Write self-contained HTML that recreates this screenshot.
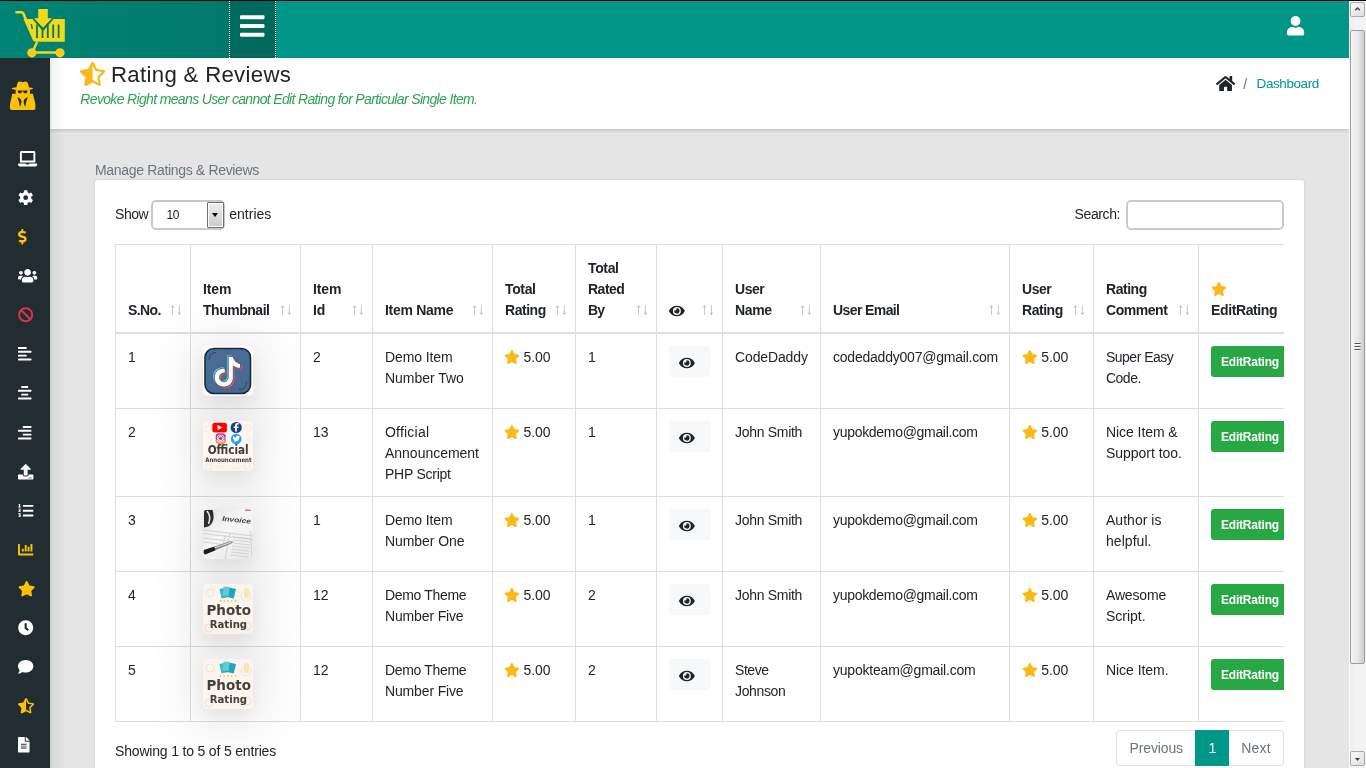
<!DOCTYPE html>
<html lang="en">
<head>
<meta charset="utf-8">
<title>Rating &amp; Reviews</title>
<style>
*{box-sizing:border-box;margin:0;padding:0}
html,body{width:1366px;height:768px;overflow:hidden;background:#e5e5e5;font-family:"Liberation Sans",sans-serif;font-size:14px;line-height:21px;color:#212529}
.abs{position:absolute}
#page{left:0;top:0;width:1366px;height:768px;overflow:hidden;will-change:transform}
.t{white-space:nowrap}
svg{display:block;overflow:visible}
#topline{left:0;top:0;width:1366px;height:1px;background:#000}
#hdr{left:0;top:1px;width:1349px;height:57px;background:#009688}
#logo{left:0;top:0;width:229px;height:57px;background:linear-gradient(to right,#008475,#00796b)}
#tog{left:229px;top:0;width:47px;height:57px;background:#00695c;border-left:1px dotted #fff;border-right:1px dotted #fff}
#side{left:0;top:58px;width:50px;height:710px;background:#222d32}
#ttl{left:50px;top:58px;width:1299px;height:71px;background:#fff;box-shadow:0 2px 3px rgba(0,0,0,.13)}
#sideshadow{left:50px;top:58px;width:16px;height:710px;background:linear-gradient(to right,rgba(0,0,20,.11),rgba(0,0,0,.045) 18%,rgba(0,0,0,.03) 50%,rgba(0,0,0,0))}
#card{left:95px;top:180px;width:1209px;height:600px;background:#fff;border-radius:3px;box-shadow:0 0 3px rgba(0,0,0,.12)}
#lensel{left:151.2px;top:200.2px;width:74.3px;height:29.6px;border:2px solid #c7c8cf;border-radius:5px;background:#fff}
#lenbtn{left:207.2px;top:202.1px;width:16.4px;height:25.5px;border:1px solid #6e6e6e;background:linear-gradient(#ededed,#cbcbcb);box-shadow:inset 0 0 0 1px #fff;border-radius:1px}
#lenbtn:after{content:"";position:absolute;left:3.4px;top:9.9px;border:3.8px solid transparent;border-top:4px solid #000;border-bottom:0}
#search{left:1126.3px;top:200.1px;width:157.7px;height:29.6px;border:2px solid #c9cad1;border-radius:5px;background:#fff}
#twrap{left:115px;top:244px;width:1169px;height:524px;overflow:hidden}
table{border-collapse:separate;border-spacing:0;table-layout:fixed;width:1190px;border-left:1px solid #dedede;border-top:1px solid #dedede}
th,td{border-right:1px solid #dedede;border-bottom:1px solid #dedede;padding:13px 12px 11px;text-align:left;vertical-align:top;white-space:nowrap;position:relative}
th{vertical-align:bottom;font-weight:700;height:89px;border-bottom:2px solid #dedede}
td{height:75px}
tr.r3 td{height:88px}
.sa{position:absolute;right:8px;bottom:16.5px}
.thumb{position:absolute;left:12px;top:12px;width:50px;height:50px;border-radius:5px;overflow:hidden;box-shadow:0 7px 16px 0 rgba(0,0,0,.06),0 5px 50px 16px rgba(0,0,0,.074)}
.thumb svg{border-radius:5px;overflow:hidden}
.eyebtn{position:absolute;left:12px;top:12px;width:41px;height:31px;background:#f7f8f9;border-radius:3px}
.edit{position:absolute;left:12px;top:12px;width:79px;height:31px;background:#28a745;border-radius:3px;color:#fff;font-weight:700;font-size:12px}
#pag{left:1116px;top:730px;width:168px;height:36px;border:1px solid #dee2e6;border-radius:4px;background:#fff}
#pagact{left:1195px;top:730px;width:34px;height:36px;background:#009688}
#sb{left:1349px;top:1px;width:17px;height:767px;background:linear-gradient(to right,#fafafa 1px,#eeeeee 1px,#f3f3f3 40%,#f3f3f3)}
.sbbtn{left:1px;width:15px;height:15px;border:1px solid #ababab;border-radius:2px;background:linear-gradient(135deg,#fafafa,#dedede)}
#sbthumb{left:1px;top:29px;width:15px;height:634px;border:1px solid #9c9c9c;border-radius:2px;background:linear-gradient(to right,#f5f5f5,#e8e8e8 50%,#cfcfcf)}
</style>
</head>
<body>
<div id="page" class="abs">
<header class="abs" id="hdr"><div class="abs" id="logo"></div><svg class="abs" style="left:0;top:0" width="120" height="57" viewBox="0 1 120 57"><path d="M16.5 12.3 H21 Q23 12.3 23.8 14.5 L26.5 21" fill="none" stroke="#f2d91a" stroke-width="2.6" stroke-linecap="round" stroke-linejoin="round"/><path d="M23.5 19 H64.8 V41.8 H35.5 Q33.5 41.8 32.8 40 Z" fill="#f2d91a"/><path d="M30.6 24 L32 24 L33 29 L31.6 29 Z" fill="#007a6c"/><rect x="36.1" y="24.5" width="1.8" height="13.5" fill="#007a6c"/><rect x="41.6" y="24.5" width="1.8" height="13.5" fill="#007a6c"/><rect x="46.9" y="24.5" width="1.8" height="13.5" fill="#007a6c"/><rect x="52.300000000000004" y="24.5" width="1.8" height="13.5" fill="#007a6c"/><rect x="57.7" y="24.5" width="1.8" height="13.5" fill="#007a6c"/><path d="M33.5 18.5 L43 29.5 L52.5 18.5" fill="none" stroke="#007a6c" stroke-width="2.2"/><path d="M38.2 9 H47.8 V18.3 H52 L43 27.5 L34 18.3 H38.2 Z" fill="#f2d91a"/><path d="M37.2 42 L32 52.5 H60" fill="none" stroke="#f2d91a" stroke-width="2.4" stroke-linejoin="round"/><circle cx="31.8" cy="52.8" r="4.6" fill="#fccb1c"/><circle cx="60" cy="52.8" r="4.6" fill="#fccb1c"/></svg><div class="abs" id="tog"></div><svg class="abs" style="left:240px;top:10.8px;" width="24.50" height="28" viewBox="0 0 448 512"><path fill="#fff" d="M16 132h416c8.837 0 16-7.163 16-16V76c0-8.837-7.163-16-16-16H16C7.163 60 0 67.163 0 76v40c0 8.837 7.163 16 16 16zm0 160h416c8.837 0 16-7.163 16-16v-40c0-8.837-7.163-16-16-16H16c-8.837 0-16 7.163-16 16v40c0 8.837 7.163 16 16 16zm0 160h416c8.837 0 16-7.163 16-16v-40c0-8.837-7.163-16-16-16H16c-8.837 0-16 7.163-16 16v40c0 8.837 7.163 16 16 16z"/></svg><svg class="abs" style="left:1287.4px;top:14.7px;" width="17.15" height="19.6" viewBox="0 0 448 512"><path fill="#fff" d="M224 256c70.7 0 128-57.3 128-128S294.700 0 224 0 96 57.3 96 128s57.300 128 128 128zm89.600 32h-16.700c-22.200 10.200-46.900 16-72.900 16s-50.600-5.800-72.900-16h-16.700C60.200 288 0 348.200 0 422.400V464c0 26.500 21.500 48 48 48h352c26.500 0 48-21.500 48-48v-41.600c0-74.200-60.200-134.400-134.400-134.400z"/></svg></header>
<div class="abs" id="topline"></div>
<nav class="abs" id="side"><svg class="abs" style="left:9.8px;top:23px" width="25.38" height="29" viewBox="0 0 448 512"><path fill="#ffc107" d="M108 132 L130 44 C138 12 168 0 194 14 C212 24 236 24 254 14 C280 0 310 12 318 44 L340 132z"/><ellipse cx="218" cy="134" rx="192" ry="27" fill="#ffc107"/><path fill="#ffc107" d="M100 150 H352 V236 H100z"/><path fill="#222d32" d="M136 168 H214 C214 202 198 222 175 222 C152 222 136 202 136 168z M232 168 H310 C310 202 294 222 271 222 C248 222 232 202 232 168z M206 170 h34 v12 h-34z"/><path fill="#ffc107" d="M40 226 H404 L430 330 C444 370 448 410 448 440 L448 480 C448 498 436 510 418 510 L30 510 C12 510 0 498 0 480 L0 440 C0 410 4 370 18 330z"/><path fill="#222d32" d="M128 286 C170 296 198 320 202 354 C206 394 194 426 172 456 C172 400 150 340 128 286z"/><path fill="#222d32" d="M316 286 C274 296 246 320 242 354 C238 394 250 426 272 456 C272 400 294 340 316 286z"/></svg><svg class="abs" style="left:17.7px;top:92.8px;" width="19.25" height="15.4" viewBox="0 0 640 512"><path fill="#fff" d="M624 416H381.540c-.74 19.810-14.710 32-32.740 32H288c-18.690 0-33.020-17.470-32.770-32H16c-8.800 0-16 7.200-16 16v16c0 35.200 28.800 64 64 64h512c35.200 0 64-28.800 64-64v-16c0-8.800-7.200-16-16-16zM576 48c0-26.400-21.600-48-48-48H112C85.600 0 64 21.600 64 48v336h512V48zm-64 272H128V64h384v256z"/></svg><svg class="abs" style="left:17.7px;top:131.5px;" width="15.40" height="15.4" viewBox="0 0 512 512"><path fill="#fff" fill-rule="evenodd" d="M198.5 10.7 L313.5 10.7 L316.0 77.8 L380.3 115.0 L439.7 83.5 L497.2 183.2 L440.3 218.8 L440.3 293.2 L497.2 328.8 L439.7 428.5 L380.3 397.0 L316.0 434.2 L313.5 501.3 L198.5 501.3 L196.0 434.2 L131.7 397.0 L72.3 428.5 L14.8 328.8 L71.7 293.2 L71.7 218.8 L14.8 183.2 L72.3 83.5 L131.7 115.0 L196.0 77.8zM176 256a80 80 0 1 0 160 0a80 80 0 1 0 -160 0z"/></svg><svg class="abs" style="left:18px;top:171.0px;" width="8.66" height="15.4" viewBox="0 0 288 512"><path fill="#ffc107" d="M209.2 233.4l-108-31.6C88.7 198.2 80 186.5 80 173.5c0-16.3 13.2-29.5 29.5-29.5h66.3c12.2 0 24.200 3.700 34.200 10.500 6.100 4.100 14.300 3.100 19.500-2l34.800-34c7.100-6.900 6.100-18.400-1.800-24.500C238 74.800 207.400 64.100 176 64V16c0-8.800-7.200-16-16-16h-32c-8.800 0-16 7.200-16 16v48h-2.500C45.800 64-5.400 118.700.5 183.600c4.200 46.100 39.400 83.600 83.800 96.600l102.500 30c12.500 3.700 21.200 15.300 21.200 28.300 0 16.300-13.200 29.500-29.500 29.500h-66.300C100 368 88 364.300 78 357.500c-6.100-4.100-14.300-3.100-19.500 2l-34.800 34c-7.100 6.900-6.100 18.400 1.800 24.500 24.500 19.200 55.100 29.900 86.500 30v48c0 8.800 7.200 16 16 16h32c8.800 0 16-7.200 16-16v-48.200c46.600-.9 90.300-28.600 105.700-72.700 21.500-61.600-14.600-124.800-72.500-141.700z"/></svg><svg class="abs" style="left:17.7px;top:210.1px;" width="19.25" height="15.4" viewBox="0 0 640 512"><path fill="#fff" d="M96 224c35.300 0 64-28.700 64-64s-28.700-64-64-64-64 28.700-64 64 28.700 64 64 64zm448 0c35.300 0 64-28.700 64-64s-28.700-64-64-64-64 28.700-64 64 28.700 64 64 64zm32 32h-64c-17.600 0-33.500 7.100-45.100 18.600 40.300 22.100 68.900 62 75.100 109.400h66c17.700 0 32-14.300 32-32v-32c0-35.300-28.700-64-64-64zm-256 0c61.900 0 112-50.100 112-112S381.900 32 320 32 208 82.100 208 144s50.100 112 112 112zm76.800 32h-8.300c-20.800 10-43.900 16-68.500 16s-47.600-6-68.500-16h-8.300C179.600 288 128 339.600 128 403.200V432c0 26.500 21.500 48 48 48h288c26.500 0 48-21.500 48-48v-28.800c0-63.600-51.600-115.200-115.200-115.200zm-223.700-13.400C161.500 263.100 145.600 256 128 256H64c-35.300 0-64 28.700-64 64v32c0 17.700 14.300 32 32 32h65.900c6.300-47.400 34.900-87.300 75.200-109.400z"/></svg><svg class="abs" style="left:17.7px;top:249.2px;" width="15.40" height="15.4" viewBox="0 0 512 512"><path fill="#dc3545" d="M256 8C119.034 8 8 119.033 8 256s111.034 248 248 248 248-111.034 248-248S392.967 8 256 8zm130.108 117.892c65.448 65.448 70 165.481 20.677 235.637L150.470 105.216c70.204-49.356 170.226-44.735 235.638 20.676zM125.892 386.108c-65.448-65.448-70-165.481-20.677-235.637L361.530 406.784c-70.203 49.356-170.226 44.736-235.638-20.676z"/></svg><svg class="abs" style="left:17.7px;top:288.3px;" width="13.47" height="15.4" viewBox="0 0 448 512"><path fill="#fff" d="M13 32h262a13 13 0 0 1 13 13v38a13 13 0 0 1 -13 13h-262a13 13 0 0 1 -13 -13v-38a13 13 0 0 1 13 -13zM13 288h262a13 13 0 0 1 13 13v38a13 13 0 0 1 -13 13h-262a13 13 0 0 1 -13 -13v-38a13 13 0 0 1 13 -13zM16 160h416a16 16 0 0 1 16 16v32a16 16 0 0 1 -16 16h-416a16 16 0 0 1 -16 -16v-32a16 16 0 0 1 16 -16zM16 416h416a16 16 0 0 1 16 16v32a16 16 0 0 1 -16 16h-416a16 16 0 0 1 -16 -16v-32a16 16 0 0 1 16 -16z"/></svg><svg class="abs" style="left:17.7px;top:327.4px;" width="13.47" height="15.4" viewBox="0 0 448 512"><path fill="#fff" d="M121 32h206a13 13 0 0 1 13 13v38a13 13 0 0 1 -13 13h-206a13 13 0 0 1 -13 -13v-38a13 13 0 0 1 13 -13zM121 288h206a13 13 0 0 1 13 13v38a13 13 0 0 1 -13 13h-206a13 13 0 0 1 -13 -13v-38a13 13 0 0 1 13 -13zM16 160h416a16 16 0 0 1 16 16v32a16 16 0 0 1 -16 16h-416a16 16 0 0 1 -16 -16v-32a16 16 0 0 1 16 -16zM16 416h416a16 16 0 0 1 16 16v32a16 16 0 0 1 -16 16h-416a16 16 0 0 1 -16 -16v-32a16 16 0 0 1 16 -16z"/></svg><svg class="abs" style="left:17.7px;top:366.5px;" width="13.47" height="15.4" viewBox="0 0 448 512"><path fill="#fff" d="M173 32h262a13 13 0 0 1 13 13v38a13 13 0 0 1 -13 13h-262a13 13 0 0 1 -13 -13v-38a13 13 0 0 1 13 -13zM173 288h262a13 13 0 0 1 13 13v38a13 13 0 0 1 -13 13h-262a13 13 0 0 1 -13 -13v-38a13 13 0 0 1 13 -13zM16 160h416a16 16 0 0 1 16 16v32a16 16 0 0 1 -16 16h-416a16 16 0 0 1 -16 -16v-32a16 16 0 0 1 16 -16zM16 416h416a16 16 0 0 1 16 16v32a16 16 0 0 1 -16 16h-416a16 16 0 0 1 -16 -16v-32a16 16 0 0 1 16 -16z"/></svg><svg class="abs" style="left:17.7px;top:405.6px;" width="15.40" height="15.4" viewBox="0 0 512 512"><path fill="#fff" d="M296 384h-80c-13.300 0-24-10.700-24-24V192h-87.700c-17.800 0-26.700-21.500-14.100-34.100L242.300 5.700c7.500-7.500 19.800-7.500 27.300 0l152.200 152.200c12.600 12.600 3.700 34.100-14.100 34.100H320v168c0 13.300-10.700 24-24 24zm216-8v112c0 13.300-10.700 24-24 24H24c-13.300 0-24-10.700-24-24V376c0-13.300 10.700-24 24-24h136v8c0 30.900 25.100 56 56 56h80c30.900 0 56-25.100 56-56v-8h136c13.300 0 24 10.700 24 24zm-124 88c0-11-9-20-20-20s-20 9-20 20 9 20 20 20 20-9 20-20zm64 0c0-11-9-20-20-20s-20 9-20 20 9 20 20 20 20-9 20-20z"/></svg><svg class="abs" style="left:17.7px;top:444.7px;" width="15.40" height="15.4" viewBox="0 0 512 512"><path fill="#fff" d="M176 64h320a16 16 0 0 1 16 16v32a16 16 0 0 1 -16 16h-320a16 16 0 0 1 -16 -16v-32a16 16 0 0 1 16 -16zM176 224h320a16 16 0 0 1 16 16v32a16 16 0 0 1 -16 16h-320a16 16 0 0 1 -16 -16v-32a16 16 0 0 1 16 -16zM176 384h320a16 16 0 0 1 16 16v32a16 16 0 0 1 -16 16h-320a16 16 0 0 1 -16 -16v-32a16 16 0 0 1 16 -16zM24 36h46v84h20v32h-80v-32h22v-52h-12zM10 212q0 -28 40 -28q42 0 42 32q0 18 -30 40h30v32h-82v-26q46 -32 46 -44q0 -6 -8 -6q-8 0 -8 8zM10 344h80v26l-20 22q24 8 24 32q0 40 -44 40q-34 0 -42 -28l28 -10q4 10 14 10q10 0 10 -10q0 -10 -14 -10h-10v-24l16 -18h-42z"/></svg><svg class="abs" style="left:17.7px;top:483.8px;" width="15.40" height="15.4" viewBox="0 0 512 512"><path fill="#ffc107" d="M332.800 320h38.400c6.400 0 12.800-6.400 12.800-12.800V172.800c0-6.400-6.400-12.800-12.800-12.800h-38.400c-6.400 0-12.800 6.400-12.800 12.800v134.400c0 6.400 6.400 12.800 12.800 12.800zm96 0h38.400c6.400 0 12.800-6.400 12.800-12.800V76.800c0-6.400-6.400-12.800-12.800-12.800h-38.400c-6.400 0-12.800 6.400-12.800 12.800v230.400c0 6.400 6.400 12.800 12.800 12.800zm-288 0h38.400c6.400 0 12.800-6.400 12.800-12.800v-70.400c0-6.400-6.400-12.800-12.800-12.800h-38.400c-6.400 0-12.800 6.400-12.800 12.800v70.400c0 6.400 6.400 12.800 12.800 12.800zm96 0h38.400c6.400 0 12.800-6.400 12.800-12.800V108.800c0-6.400-6.400-12.800-12.800-12.800h-38.400c-6.400 0-12.800 6.400-12.800 12.800v198.400c0 6.400 6.400 12.800 12.800 12.800zM496 384H64V80c0-8.840-7.160-16-16-16H16C7.160 64 0 71.160 0 80v336c0 17.670 14.330 32 32 32h464c8.840 0 16-7.160 16-16v-32c0-8.840-7.160-16-16-16z"/></svg><svg class="abs" style="left:17.7px;top:522.9px;" width="17.32" height="15.4" viewBox="0 0 576 512"><path fill="#ffc107" d="M259.3 17.800L194 150.200 47.900 171.500c-26.200 3.800-36.700 36.100-17.700 54.600l105.700 103-25 145.500c-4.500 26.300 23.200 46 46.400 33.700L288 439.600l130.700 68.700c23.200 12.200 50.900-7.400 46.400-33.700l-25-145.500 105.700-103c19-18.500 8.500-50.800-17.700-54.600L382 150.200 316.700 17.800c-11.700-23.600-45.600-23.900-57.400 0z"/></svg><svg class="abs" style="left:17.7px;top:562.0px;" width="15.40" height="15.4" viewBox="0 0 512 512"><path fill="#fff" d="M256 8C119 8 8 119 8 256s111 248 248 248 248-111 248-248S393 8 256 8zm57.100 350.100L224.900 294c-3.100-2.300-4.900-5.900-4.900-9.700V116c0-6.600 5.400-12 12-12h48c6.600 0 12 5.400 12 12v137.700l63.500 46.200c5.400 3.900 6.500 11.400 2.600 16.800l-28.200 38.800c-3.900 5.300-11.400 6.500-16.800 2.600z"/></svg><svg class="abs" style="left:17.7px;top:601.1px;" width="15.40" height="15.4" viewBox="0 0 512 512"><path fill="#fff" d="M256 32C114.600 32 0 125.100 0 240c0 49.600 21.400 95 57 130.700C44.500 421.100 2.700 466 2.200 466.500c-2.200 2.300-2.800 5.700-1.500 8.700S4.800 480 8 480c66.300 0 116-31.800 140.600-51.400 32.700 12.300 69 19.400 107.400 19.400 141.400 0 256-93.100 256-208S397.400 32 256 32z"/></svg><svg class="abs" style="left:17.7px;top:640.2px;" width="16.12" height="15.4" viewBox="0 0 536 512"><path fill="#ffc107" d="M508.550 171.510L362.180 150.200 296.770 17.810C290.890 5.980 279.420 0 267.950 0c-11.400 0-22.790 5.900-28.690 17.810l-65.430 132.380-146.380 21.290c-26.250 3.800-36.770 36.090-17.740 54.590l105.890 103-25.060 145.480C86.980 495.330 103.570 512 122.150 512c4.930 0 10-1.170 14.870-3.750l130.950-68.680 130.940 68.700c4.860 2.550 9.920 3.710 14.830 3.710 18.600 0 35.220-16.610 31.660-37.400l-25.030-145.490 105.910-102.980c19.040-18.500 8.520-50.800-17.730-54.600zm-121.740 123.200l-18.120 17.620 4.280 24.880 19.520 113.450-102.130-53.590-22.380-11.740.03-317.190 51.030 103.290 11.180 22.630 25.010 3.640 114.230 16.630-82.650 80.380z"/></svg><svg class="abs" style="left:17.7px;top:679.3px;" width="11.55" height="15.4" viewBox="0 0 384 512"><path fill="#fff" d="M224 136V0H24C10.700 0 0 10.700 0 24v464c0 13.300 10.700 24 24 24h336c13.300 0 24-10.700 24-24V160H248c-13.200 0-24-10.800-24-24zm64 236c0 6.600-5.400 12-12 12H108c-6.600 0-12-5.400-12-12v-8c0-6.600 5.400-12 12-12h168c6.600 0 12 5.400 12 12v8zm0-64c0 6.600-5.400 12-12 12H108c-6.600 0-12-5.400-12-12v-8c0-6.600 5.400-12 12-12h168c6.600 0 12 5.400 12 12v8zm0-72v8c0 6.600-5.400 12-12 12H108c-6.600 0-12-5.400-12-12v-8c0-6.600 5.400-12 12-12h168c6.600 0 12 5.400 12 12zm96-114.100v6.100H256V0h6.100c6.400 0 12.500 2.500 17 7l97.900 98c4.500 4.500 7 10.600 7 16.900z"/></svg></nav>
<section class="abs" id="ttl"></section>
<div class="abs" id="sideshadow"></div>
<svg class="abs" style="left:80px;top:62px;" width="25.12" height="24" viewBox="0 0 536 512"><path fill="#fbb917" d="M508.550 171.510L362.180 150.200 296.770 17.810C290.890 5.980 279.420 0 267.950 0c-11.400 0-22.790 5.900-28.690 17.810l-65.430 132.380-146.380 21.290c-26.250 3.800-36.770 36.090-17.740 54.590l105.890 103-25.060 145.480C86.980 495.330 103.570 512 122.150 512c4.930 0 10-1.170 14.870-3.750l130.950-68.680 130.940 68.700c4.860 2.550 9.920 3.710 14.830 3.710 18.600 0 35.220-16.610 31.660-37.400l-25.030-145.490 105.910-102.980c19.040-18.500 8.520-50.800-17.730-54.600zm-121.740 123.200l-18.120 17.620 4.280 24.880 19.520 113.450-102.130-53.590-22.380-11.740.03-317.190 51.030 103.290 11.180 22.630 25.010 3.640 114.230 16.630-82.650 80.380z"/></svg><h1 style="font-weight:400;font-size:inherit"><span class="abs t" style="left:111px;top:63.81px;font-size:22.2px;line-height:1;letter-spacing:0.318px;">Rating &amp; Reviews</span></h1><span class="abs t" style="left:80.3px;top:91.85px;font-size:14px;line-height:1;font-style:italic;letter-spacing:-0.654px;color:#2fa24f;">Revoke Right means User cannot Edit Rating for Particular Single Item.</span><svg class="abs" style="left:1216px;top:75px;" width="19.12" height="17" viewBox="0 0 576 512"><path fill="#212529" d="M280.370 148.260L96 300.110V464a16 16 0 0 0 16 16l112.060-.29a16 16 0 0 0 15.920-16V368a16 16 0 0 1 16-16h64a16 16 0 0 1 16 16v95.640a16 16 0 0 0 16 16.050L464 480a16 16 0 0 0 16-16V300L295.670 148.260a12.190 12.190 0 0 0-15.300 0zM571.600 251.470L488 182.560V44.050a12 12 0 0 0-12-12h-56a12 12 0 0 0-12 12v72.610L318.470 43a48 48 0 0 0-61 0L4.340 251.470a12 12 0 0 0-1.600 16.900l25.500 31A12 12 0 0 0 45.150 301l235.220-193.740a12.190 12.190 0 0 1 15.300 0L530.900 301a12 12 0 0 0 16.900-1.600l25.500-31a12 12 0 0 0-1.700-16.930z"/></svg><span class="abs t" style="left:1243.3px;top:76.75px;font-size:14px;line-height:1;color:#6c757d;">/</span><span class="abs t" style="left:1256.6px;top:77.17px;font-size:13.5px;line-height:1;letter-spacing:-0.427px;color:#009688;">Dashboard</span>
<span class="abs t" style="left:95px;top:162.95px;font-size:14px;line-height:1;letter-spacing:-0.332px;color:#6c757d;">Manage Ratings &amp; Reviews</span><div class="abs" id="card"></div>
<span class="abs t" style="left:115px;top:206.85px;font-size:14px;line-height:1;letter-spacing:-0.455px;">Show</span><div class="abs" id="lensel"></div><div class="abs" id="lenbtn"></div><span class="abs t" style="left:166.5px;top:208.84px;font-size:12px;line-height:1;letter-spacing:-0.424px;">10</span><span class="abs t" style="left:229.3px;top:206.85px;font-size:14px;line-height:1;letter-spacing:-0.003px;">entries</span><span class="abs t" style="left:1074.6px;top:206.85px;font-size:14px;line-height:1;letter-spacing:-0.407px;">Search:</span><div class="abs" id="search"></div>
<div class="abs" id="twrap"><table><colgroup><col style="width:75px"><col style="width:110px"><col style="width:72px"><col style="width:120px"><col style="width:83px"><col style="width:81px"><col style="width:66px"><col style="width:98px"><col style="width:189px"><col style="width:84px"><col style="width:105px"><col style="width:107px"></colgroup>
<thead><tr><th><span style="letter-spacing:-0.596px">S.No.</span><svg class="sa" width="12" height="10.2" viewBox="0 0 12 10.2"><path d="M2.5 10V.8M.9 2.600L2.500.800L4.100 2.600M9.400.200V9.400M7.800 7.600L9.400 9.400L11 7.600" stroke="#212529" stroke-opacity=".26" fill="none" stroke-width="1"/></svg></th><th><span style="letter-spacing:-0.097px">Item</span><br><span style="letter-spacing:-0.475px">Thumbnail</span><svg class="sa" width="12" height="10.2" viewBox="0 0 12 10.2"><path d="M2.5 10V.8M.9 2.600L2.500.800L4.100 2.600M9.400.200V9.400M7.800 7.600L9.400 9.400L11 7.600" stroke="#212529" stroke-opacity=".26" fill="none" stroke-width="1"/></svg></th><th><span style="letter-spacing:-0.097px">Item</span><br><span style="letter-spacing:-0.221px">Id</span><svg class="sa" width="12" height="10.2" viewBox="0 0 12 10.2"><path d="M2.5 10V.8M.9 2.600L2.500.800L4.100 2.600M9.400.200V9.400M7.800 7.600L9.400 9.400L11 7.600" stroke="#212529" stroke-opacity=".26" fill="none" stroke-width="1"/></svg></th><th><span style="letter-spacing:-0.279px">Item Name</span><svg class="sa" width="12" height="10.2" viewBox="0 0 12 10.2"><path d="M2.5 10V.8M.9 2.600L2.500.800L4.100 2.600M9.400.200V9.400M7.800 7.600L9.400 9.400L11 7.600" stroke="#212529" stroke-opacity=".26" fill="none" stroke-width="1"/></svg></th><th><span style="letter-spacing:-0.36px">Total</span><br><span style="letter-spacing:-0.459px">Rating</span><svg class="sa" width="12" height="10.2" viewBox="0 0 12 10.2"><path d="M2.5 10V.8M.9 2.600L2.500.800L4.100 2.600M9.400.200V9.400M7.800 7.600L9.400 9.400L11 7.600" stroke="#212529" stroke-opacity=".26" fill="none" stroke-width="1"/></svg></th><th><span style="letter-spacing:-0.36px">Total</span><br><span style="letter-spacing:-0.499px">Rated</span><br><span style="letter-spacing:-0.848px">By</span><svg class="sa" width="12" height="10.2" viewBox="0 0 12 10.2"><path d="M2.5 10V.8M.9 2.600L2.500.800L4.100 2.600M9.400.200V9.400M7.800 7.600L9.400 9.400L11 7.600" stroke="#212529" stroke-opacity=".26" fill="none" stroke-width="1"/></svg></th><th><svg style="position:absolute;left:11.5px;bottom:14.5px" width="15.75" height="14" viewBox="0 0 576 512"><path fill="#212529" d="M572.520 241.400C518.290 135.590 410.930 64 288 64S57.680 135.640 3.480 241.410a32.350 32.350 0 0 0 0 29.190C57.710 376.410 165.070 448 288 448s230.320-71.640 284.520-177.410a32.350 32.350 0 0 0 0-29.190zM288 400a144 144 0 1 1 144-144 143.930 143.930 0 0 1-144 144zm0-240a95.310 95.310 0 0 0-25.310 3.790 47.850 47.850 0 0 1-66.900 66.900A95.780 95.780 0 1 0 288 160z"/></svg>&nbsp;<svg class="sa" width="12" height="10.2" viewBox="0 0 12 10.2"><path d="M2.5 10V.8M.9 2.600L2.500.800L4.100 2.600M9.400.200V9.400M7.800 7.600L9.400 9.400L11 7.600" stroke="#212529" stroke-opacity=".26" fill="none" stroke-width="1"/></svg></th><th><span style="letter-spacing:-0.483px">User</span><br><span style="letter-spacing:-0.333px">Name</span><svg class="sa" width="12" height="10.2" viewBox="0 0 12 10.2"><path d="M2.5 10V.8M.9 2.600L2.500.800L4.100 2.600M9.400.200V9.400M7.800 7.600L9.400 9.400L11 7.600" stroke="#212529" stroke-opacity=".26" fill="none" stroke-width="1"/></svg></th><th><span style="letter-spacing:-0.597px">User Email</span><svg class="sa" width="12" height="10.2" viewBox="0 0 12 10.2"><path d="M2.5 10V.8M.9 2.600L2.500.800L4.100 2.600M9.400.200V9.400M7.800 7.600L9.400 9.400L11 7.600" stroke="#212529" stroke-opacity=".26" fill="none" stroke-width="1"/></svg></th><th><span style="letter-spacing:-0.483px">User</span><br><span style="letter-spacing:-0.459px">Rating</span><svg class="sa" width="12" height="10.2" viewBox="0 0 12 10.2"><path d="M2.5 10V.8M.9 2.600L2.500.800L4.100 2.600M9.400.200V9.400M7.800 7.600L9.400 9.400L11 7.600" stroke="#212529" stroke-opacity=".26" fill="none" stroke-width="1"/></svg></th><th><span style="letter-spacing:-0.459px">Rating</span><br><span style="letter-spacing:-0.451px">Comment</span><svg class="sa" width="12" height="10.2" viewBox="0 0 12 10.2"><path d="M2.5 10V.8M.9 2.600L2.500.800L4.100 2.600M9.400.200V9.400M7.800 7.600L9.400 9.400L11 7.600" stroke="#212529" stroke-opacity=".26" fill="none" stroke-width="1"/></svg></th><th><svg style="position:absolute;left:11.500px;bottom:36.500px" width="15.75" height="14" viewBox="0 0 576 512"><path fill="#fbb917" d="M259.3 17.800L194 150.200 47.900 171.500c-26.200 3.800-36.700 36.100-17.700 54.600l105.700 103-25 145.500c-4.500 26.300 23.200 46 46.400 33.700L288 439.600l130.700 68.700c23.200 12.200 50.900-7.400 46.400-33.700l-25-145.500 105.700-103c19-18.500 8.500-50.800-17.700-54.600L382 150.200 316.700 17.800c-11.700-23.600-45.600-23.900-57.400 0z"/></svg><br><span style="letter-spacing:-0.379px">EditRating</span></th></tr></thead>
<tbody>
<tr><td>1</td><td><div class="thumb"><svg width="50" height="50" viewBox="0 0 50 50"><rect width="50" height="50" fill="#fff"/><rect x="2" y="2.5" width="45.5" height="45" rx="9" fill="#4a6b94" stroke="#1c2840" stroke-width="1.6"/><path d="M6 14 Q6 6.500 13 6.500" fill="none" stroke="#2c4063" stroke-width="1"/><path d="M43.500 36 Q43.500 43.500 36 43.500" fill="none" stroke="#2c4063" stroke-width="1"/><path d="M25.300 10.500 h5 c.5 4 3.200 6.700 7.200 7.200 v4.600 c-2.700 0-5.200-.8-7.200-2.300 v11.500 c0 5.500-4.400 9.500-9.500 9.500 s-9.500-4-9.500-9.500 c0-5.600 4.900-10 10.800-9.200 v5 c-2.800-.8-5.600 1.200-5.600 4.200 c0 2.500 2 4.300 4.300 4.300 s4.500-1.800 4.500-4.600z" fill="#e8596b" transform="translate(1.200,1.200)"/><path d="M25.300 10.500 h5 c.5 4 3.200 6.700 7.200 7.200 v4.600 c-2.700 0-5.200-.8-7.200-2.300 v11.500 c0 5.500-4.400 9.500-9.500 9.500 s-9.500-4-9.500-9.500 c0-5.600 4.900-10 10.800-9.200 v5 c-2.800-.8-5.600 1.200-5.600 4.200 c0 2.500 2 4.300 4.300 4.300 s4.500-1.800 4.500-4.600z" fill="#5fd6d6" transform="translate(-1.200,-1)"/><path d="M25.300 10.500 h5 c.5 4 3.200 6.700 7.200 7.200 v4.600 c-2.700 0-5.200-.8-7.200-2.300 v11.500 c0 5.500-4.400 9.500-9.500 9.500 s-9.500-4-9.500-9.500 c0-5.600 4.900-10 10.800-9.200 v5 c-2.800-.8-5.600 1.200-5.600 4.200 c0 2.500 2 4.300 4.300 4.300 s4.500-1.800 4.500-4.600z" fill="#fff" stroke="#1c2840" stroke-width=".6"/></svg></div></td><td>2</td><td><span style="letter-spacing:-0.096px">Demo Item</span><br><span style="letter-spacing:-0.036px">Number Two</span></td><td><svg style="position:absolute;left:10.800px;top:16px" width="15.75" height="14" viewBox="0 0 576 512"><path fill="#fbb917" d="M259.3 17.800L194 150.200 47.900 171.500c-26.200 3.800-36.700 36.100-17.700 54.600l105.700 103-25 145.500c-4.500 26.300 23.200 46 46.400 33.700L288 439.600l130.700 68.700c23.200 12.200 50.900-7.400 46.400-33.700l-25-145.500 105.700-103c19-18.500 8.500-50.800-17.700-54.600L382 150.200 316.700 17.800c-11.700-23.600-45.600-23.900-57.400 0z"/></svg><span style="padding-left:18.500px"><span style="letter-spacing:-0.062px">5.00</span></span></td><td>1</td><td><div class="eyebtn"><svg style="position:absolute;left:9.800px;top:9.800px" width="15.75" height="14" viewBox="0 0 576 512"><path fill="#212529" d="M572.520 241.400C518.290 135.590 410.930 64 288 64S57.680 135.640 3.480 241.410a32.350 32.350 0 0 0 0 29.190C57.710 376.410 165.070 448 288 448s230.320-71.640 284.520-177.410a32.350 32.350 0 0 0 0-29.190zM288 400a144 144 0 1 1 144-144 143.930 143.930 0 0 1-144 144zm0-240a95.310 95.310 0 0 0-25.310 3.790 47.850 47.850 0 0 1-66.900 66.900A95.780 95.780 0 1 0 288 160z"/></svg></div></td><td><span style="letter-spacing:-0.126px">CodeDaddy</span></td><td><span style="letter-spacing:-0.221px">codedaddy007@gmail.com</span></td><td><svg style="position:absolute;left:12.200px;top:16px" width="15.75" height="14" viewBox="0 0 576 512"><path fill="#fbb917" d="M259.3 17.800L194 150.200 47.900 171.500c-26.200 3.800-36.700 36.100-17.700 54.600l105.700 103-25 145.500c-4.500 26.300 23.200 46 46.400 33.700L288 439.600l130.700 68.700c23.200 12.200 50.900-7.400 46.400-33.700l-25-145.500 105.700-103c19-18.500 8.500-50.800-17.700-54.600L382 150.200 316.700 17.800c-11.700-23.600-45.600-23.900-57.400 0z"/></svg><span style="padding-left:19.300px"><span style="letter-spacing:-0.062px">5.00</span></span></td><td><span style="letter-spacing:-0.517px">Super Easy</span><br><span style="letter-spacing:-0.512px">Code.</span></td><td><div class="edit"><span class="abs t" style="left:10px;top:9.500px;line-height:12px"><span style="letter-spacing:-0.199px">EditRating</span></span></div></td></tr>
<tr class="r3"><td>2</td><td><div class="thumb"><svg width="50" height="50" viewBox="0 0 50 50"><rect width="50" height="50" fill="#fcf6ef"/><g fill="none" stroke="#f6e3d8" stroke-width=".7"><circle cx="5" cy="8" r="3"/><circle cx="45" cy="7" r="3.500"/><circle cx="6" cy="46" r="3"/><circle cx="44" cy="45" r="3"/><path d="M14 47 l4-2 l3 3 M30 46 l4 2 l4-3"/></g><rect x="9.300" y="1.700" width="14.600" height="9.800" rx="2.500" fill="#f00"/><path d="M14.600 4.100 l4.700 2.500 l-4.700 2.500z" fill="#fff"/><circle cx="33.200" cy="6.500" r="5.600" fill="#1b3f8f"/><path d="M33.900 10.500 v-3.500 h1.500 l.3-1.600 h-1.800 v-1 c0-.6.300-.9 1-.9 h.9 v-1.500 c-2.600-.4-3.700.5-3.700 2.200 v1.200 h-1.400 v1.600 h1.400 v3.500z" fill="#fff"/><rect x="12.800" y="12.600" width="9.700" height="9.800" rx="2.600" fill="#c13584"/><rect x="12.800" y="12.600" width="9.700" height="5" rx="2.600" fill="#8a3ab9" opacity=".7"/><path d="M12.800 19 h9.700 v.8 a2.600 2.600 0 0 1 -2.600 2.600 h-4.500 a2.600 2.600 0 0 1 -2.600 -2.600z" fill="#f9a03f" opacity=".85"/><circle cx="17.650" cy="17.500" r="2.100" fill="none" stroke="#fff" stroke-width=".9"/><rect x="14.400" y="14.200" width="6.500" height="6.600" rx="1.800" fill="none" stroke="#fff" stroke-width=".8"/><circle cx="33.200" cy="18" r="5.300" fill="#1da1f2"/><path d="M30 20.100 c2.800 1.500 6.400-.2 6.300-3.800 l.8-.9 l-1 .2 l.6-.9 l-1 .4 c-1-1-2.800-.3-2.600 1.300 c-1.300 0-2.300-.6-3-1.500 c-.4.800-.1 1.600.5 2.100 l-.7-.2 c0 .8.600 1.400 1.300 1.600 h-.7 c.2.600.8 1 1.500 1.100 c-.6.400-1.300.6-2 .6z" fill="#fff"/><text x="25.200" y="33.400" text-anchor="middle" font-family="DejaVu Sans, sans-serif" font-weight="700" font-size="12" fill="#3b3b3b" textLength="41" lengthAdjust="spacingAndGlyphs">Official</text><text x="25.400" y="40.900" text-anchor="middle" font-family="DejaVu Sans, sans-serif" font-weight="700" font-size="6.200" fill="#3b3b3b" textLength="46.500" lengthAdjust="spacingAndGlyphs">Announcement</text></svg></div></td><td>13</td><td><span style="letter-spacing:0.208px">Official</span><br><span style="letter-spacing:-0.015px">Announcement</span><br><span style="letter-spacing:-0.246px">PHP Script</span></td><td><svg style="position:absolute;left:10.800px;top:16px" width="15.75" height="14" viewBox="0 0 576 512"><path fill="#fbb917" d="M259.3 17.800L194 150.200 47.900 171.500c-26.200 3.800-36.700 36.100-17.700 54.600l105.700 103-25 145.500c-4.500 26.300 23.200 46 46.400 33.700L288 439.600l130.700 68.700c23.200 12.200 50.900-7.400 46.400-33.700l-25-145.500 105.700-103c19-18.500 8.500-50.800-17.700-54.600L382 150.200 316.700 17.800c-11.700-23.600-45.600-23.900-57.400 0z"/></svg><span style="padding-left:18.500px"><span style="letter-spacing:-0.062px">5.00</span></span></td><td>1</td><td><div class="eyebtn"><svg style="position:absolute;left:9.800px;top:9.800px" width="15.75" height="14" viewBox="0 0 576 512"><path fill="#212529" d="M572.520 241.400C518.290 135.590 410.930 64 288 64S57.680 135.640 3.480 241.410a32.350 32.350 0 0 0 0 29.190C57.710 376.410 165.070 448 288 448s230.320-71.640 284.520-177.410a32.350 32.350 0 0 0 0-29.190zM288 400a144 144 0 1 1 144-144 143.930 143.930 0 0 1-144 144zm0-240a95.310 95.310 0 0 0-25.310 3.790 47.850 47.850 0 0 1-66.900 66.900A95.780 95.780 0 1 0 288 160z"/></svg></div></td><td><span style="letter-spacing:-0.303px">John Smith</span></td><td><span style="letter-spacing:-0.304px">yupokdemo@gmail.com</span></td><td><svg style="position:absolute;left:12.200px;top:16px" width="15.75" height="14" viewBox="0 0 576 512"><path fill="#fbb917" d="M259.3 17.800L194 150.200 47.900 171.500c-26.200 3.800-36.700 36.100-17.700 54.600l105.700 103-25 145.500c-4.500 26.300 23.200 46 46.400 33.700L288 439.600l130.700 68.700c23.200 12.200 50.900-7.400 46.400-33.700l-25-145.500 105.700-103c19-18.500 8.500-50.800-17.700-54.600L382 150.200 316.700 17.800c-11.700-23.600-45.600-23.900-57.400 0z"/></svg><span style="padding-left:19.300px"><span style="letter-spacing:-0.062px">5.00</span></span></td><td><span style="letter-spacing:-0.068px">Nice Item &amp;</span><br><span style="letter-spacing:-0.031px">Support too.</span></td><td><div class="edit"><span class="abs t" style="left:10px;top:9.500px;line-height:12px"><span style="letter-spacing:-0.199px">EditRating</span></span></div></td></tr>
<tr><td>3</td><td><div class="thumb"><svg width="50" height="50" viewBox="0 0 50 50"><defs><linearGradient id="ig" x1="0" y1="0" x2="1" y2="1"><stop offset="0" stop-color="#e2e2e2"/><stop offset=".45" stop-color="#f6f6f6"/><stop offset="1" stop-color="#ececec"/></linearGradient></defs><rect width="50" height="50" fill="url(#ig)"/><path d="M1 1 h8.500 q2.500 7 -.5 13 q-2.500 4 -8 4.500z" fill="#2e2e2e"/><path d="M4 2 q4.500 5 1.500 13" stroke="#e8e8e8" stroke-width="1.600" fill="none"/><text x="19" y="11.800" font-family="Liberation Sans, sans-serif" font-style="italic" font-weight="700" font-size="7" fill="#3a3a3a" transform="rotate(6 19 11)" textLength="29" lengthAdjust="spacingAndGlyphs">Invoice</text><g stroke="#c6c6c6" stroke-width=".7" fill="none"><path d="M0 21 L50 27"/><path d="M0 24.500 L50 30.500"/><path d="M0 29 L26 32"/><path d="M0 33 L24 36"/><path d="M27 24 L22 50"/><path d="M30 28 L48 30 M30 31 L48 33 M29.500 34 L47.500 36 M29 37 L47 39 M28.500 40 L46.500 42 M28 43 L46 45 M27.500 46 L45.500 48"/><path d="M22 26 L20 38" /></g><path d="M47.500 22 L49 49" stroke="#d4d4d4" stroke-width="1"/><path d="M1 41 L27 32.300 L30.500 32.600 L28 34.800 L2 45.500 Q0 44 1 41z" fill="#8a8a8a"/><path d="M12 38.600 L28 33.400" stroke="#dedede" stroke-width="1"/><path d="M1 41 L11 37.700 L12.500 41.200 L2 45.500 Q0 44 1 41z" fill="#1e1e1e"/><path d="M42 0.500 h6 v1.200 h-6z" fill="#c55"/></svg></div></td><td>1</td><td><span style="letter-spacing:-0.096px">Demo Item</span><br><span style="letter-spacing:-0.064px">Number One</span></td><td><svg style="position:absolute;left:10.800px;top:16px" width="15.75" height="14" viewBox="0 0 576 512"><path fill="#fbb917" d="M259.3 17.800L194 150.200 47.900 171.500c-26.200 3.800-36.700 36.100-17.700 54.600l105.700 103-25 145.500c-4.500 26.300 23.200 46 46.400 33.700L288 439.600l130.700 68.700c23.200 12.200 50.900-7.400 46.400-33.700l-25-145.500 105.700-103c19-18.500 8.500-50.800-17.700-54.600L382 150.200 316.700 17.800c-11.700-23.600-45.600-23.900-57.400 0z"/></svg><span style="padding-left:18.500px"><span style="letter-spacing:-0.062px">5.00</span></span></td><td>1</td><td><div class="eyebtn"><svg style="position:absolute;left:9.800px;top:9.800px" width="15.75" height="14" viewBox="0 0 576 512"><path fill="#212529" d="M572.520 241.400C518.290 135.590 410.930 64 288 64S57.680 135.640 3.480 241.410a32.350 32.350 0 0 0 0 29.190C57.710 376.410 165.070 448 288 448s230.320-71.640 284.520-177.410a32.350 32.350 0 0 0 0-29.190zM288 400a144 144 0 1 1 144-144 143.930 143.930 0 0 1-144 144zm0-240a95.310 95.310 0 0 0-25.310 3.790 47.850 47.850 0 0 1-66.900 66.900A95.780 95.780 0 1 0 288 160z"/></svg></div></td><td><span style="letter-spacing:-0.303px">John Smith</span></td><td><span style="letter-spacing:-0.304px">yupokdemo@gmail.com</span></td><td><svg style="position:absolute;left:12.200px;top:16px" width="15.75" height="14" viewBox="0 0 576 512"><path fill="#fbb917" d="M259.3 17.800L194 150.200 47.900 171.500c-26.200 3.800-36.700 36.100-17.700 54.600l105.700 103-25 145.500c-4.500 26.300 23.200 46 46.400 33.700L288 439.600l130.700 68.700c23.200 12.200 50.900-7.400 46.400-33.700l-25-145.500 105.700-103c19-18.500 8.500-50.800-17.700-54.600L382 150.200 316.700 17.800c-11.700-23.600-45.600-23.900-57.400 0z"/></svg><span style="padding-left:19.300px"><span style="letter-spacing:-0.062px">5.00</span></span></td><td><span style="letter-spacing:0.028px">Author is</span><br><span style="letter-spacing:0.044px">helpful.</span></td><td><div class="edit"><span class="abs t" style="left:10px;top:9.500px;line-height:12px"><span style="letter-spacing:-0.199px">EditRating</span></span></div></td></tr>
<tr><td>4</td><td><div class="thumb"><svg width="50" height="50" viewBox="0 0 50 50"><rect width="50" height="50" fill="#fcf5ef"/><g fill="none" stroke="#f3d9d0" stroke-width=".8"><circle cx="7" cy="9" r="4"/><circle cx="43" cy="12" r="5"/><circle cx="6" cy="44" r="4"/><circle cx="44" cy="42" r="4"/></g><rect x="41" y="4" width="5" height="10" rx="2" fill="#f6e7b8"/><path d="M16.500 5 l7-1.500 l2 9.500 l-7 1.500z" fill="#3bb6c4"/><path d="M24 3 l9 2 l-2.200 9.500 l-9-2z" fill="#22a5b8"/><path d="M20.500 2.500 l6 .5 l-.8 9 l-6-.5z" fill="#62cbd6"/><g fill="#f2c744"><circle cx="17.500" cy="17" r=".9"/><circle cx="21.200" cy="17" r=".9"/><circle cx="25" cy="17" r=".9"/><circle cx="28.700" cy="17" r=".9"/><circle cx="32.500" cy="17" r=".9"/></g><text x="25.700" y="31.200" text-anchor="middle" font-family="DejaVu Sans, sans-serif" font-weight="700" font-size="14.300" fill="#45403c" textLength="44.500" lengthAdjust="spacingAndGlyphs">Photo</text><text x="25.400" y="43.500" text-anchor="middle" font-family="DejaVu Sans, sans-serif" font-weight="700" font-size="10.800" fill="#45403c" textLength="37.500" lengthAdjust="spacingAndGlyphs">Rating</text></svg></div></td><td>12</td><td><span style="letter-spacing:-0.331px">Demo Theme</span><br><span style="letter-spacing:-0.148px">Number Five</span></td><td><svg style="position:absolute;left:10.800px;top:16px" width="15.75" height="14" viewBox="0 0 576 512"><path fill="#fbb917" d="M259.3 17.800L194 150.200 47.900 171.500c-26.200 3.800-36.700 36.100-17.700 54.600l105.700 103-25 145.500c-4.500 26.300 23.200 46 46.400 33.700L288 439.600l130.700 68.700c23.200 12.200 50.900-7.400 46.400-33.700l-25-145.500 105.700-103c19-18.500 8.500-50.800-17.700-54.600L382 150.200 316.700 17.800c-11.700-23.600-45.600-23.900-57.400 0z"/></svg><span style="padding-left:18.500px"><span style="letter-spacing:-0.062px">5.00</span></span></td><td>2</td><td><div class="eyebtn"><svg style="position:absolute;left:9.800px;top:9.800px" width="15.75" height="14" viewBox="0 0 576 512"><path fill="#212529" d="M572.520 241.400C518.290 135.590 410.930 64 288 64S57.680 135.640 3.480 241.410a32.350 32.350 0 0 0 0 29.190C57.710 376.410 165.070 448 288 448s230.320-71.640 284.520-177.410a32.350 32.350 0 0 0 0-29.190zM288 400a144 144 0 1 1 144-144 143.930 143.930 0 0 1-144 144zm0-240a95.310 95.310 0 0 0-25.310 3.790 47.850 47.850 0 0 1-66.900 66.900A95.780 95.780 0 1 0 288 160z"/></svg></div></td><td><span style="letter-spacing:-0.303px">John Smith</span></td><td><span style="letter-spacing:-0.304px">yupokdemo@gmail.com</span></td><td><svg style="position:absolute;left:12.200px;top:16px" width="15.75" height="14" viewBox="0 0 576 512"><path fill="#fbb917" d="M259.3 17.800L194 150.200 47.900 171.500c-26.200 3.800-36.700 36.100-17.700 54.600l105.700 103-25 145.500c-4.500 26.300 23.200 46 46.400 33.700L288 439.600l130.700 68.700c23.200 12.200 50.900-7.400 46.400-33.700l-25-145.500 105.700-103c19-18.500 8.500-50.800-17.700-54.600L382 150.200 316.700 17.800c-11.700-23.600-45.600-23.900-57.400 0z"/></svg><span style="padding-left:19.300px"><span style="letter-spacing:-0.062px">5.00</span></span></td><td><span style="letter-spacing:-0.174px">Awesome</span><br><span style="letter-spacing:-0.025px">Script.</span></td><td><div class="edit"><span class="abs t" style="left:10px;top:9.500px;line-height:12px"><span style="letter-spacing:-0.199px">EditRating</span></span></div></td></tr>
<tr><td>5</td><td><div class="thumb"><svg width="50" height="50" viewBox="0 0 50 50"><rect width="50" height="50" fill="#fcf5ef"/><g fill="none" stroke="#f3d9d0" stroke-width=".8"><circle cx="7" cy="9" r="4"/><circle cx="43" cy="12" r="5"/><circle cx="6" cy="44" r="4"/><circle cx="44" cy="42" r="4"/></g><rect x="41" y="4" width="5" height="10" rx="2" fill="#f6e7b8"/><path d="M16.500 5 l7-1.500 l2 9.500 l-7 1.500z" fill="#3bb6c4"/><path d="M24 3 l9 2 l-2.200 9.500 l-9-2z" fill="#22a5b8"/><path d="M20.500 2.500 l6 .5 l-.8 9 l-6-.5z" fill="#62cbd6"/><g fill="#f2c744"><circle cx="17.500" cy="17" r=".9"/><circle cx="21.200" cy="17" r=".9"/><circle cx="25" cy="17" r=".9"/><circle cx="28.700" cy="17" r=".9"/><circle cx="32.500" cy="17" r=".9"/></g><text x="25.700" y="31.200" text-anchor="middle" font-family="DejaVu Sans, sans-serif" font-weight="700" font-size="14.300" fill="#45403c" textLength="44.500" lengthAdjust="spacingAndGlyphs">Photo</text><text x="25.400" y="43.500" text-anchor="middle" font-family="DejaVu Sans, sans-serif" font-weight="700" font-size="10.800" fill="#45403c" textLength="37.500" lengthAdjust="spacingAndGlyphs">Rating</text></svg></div></td><td>12</td><td><span style="letter-spacing:-0.331px">Demo Theme</span><br><span style="letter-spacing:-0.148px">Number Five</span></td><td><svg style="position:absolute;left:10.800px;top:16px" width="15.75" height="14" viewBox="0 0 576 512"><path fill="#fbb917" d="M259.3 17.800L194 150.200 47.900 171.500c-26.200 3.800-36.700 36.100-17.700 54.600l105.700 103-25 145.500c-4.500 26.300 23.200 46 46.400 33.700L288 439.600l130.700 68.700c23.200 12.200 50.900-7.400 46.400-33.700l-25-145.500 105.700-103c19-18.500 8.500-50.800-17.700-54.600L382 150.200 316.700 17.800c-11.700-23.600-45.600-23.900-57.400 0z"/></svg><span style="padding-left:18.500px"><span style="letter-spacing:-0.062px">5.00</span></span></td><td>2</td><td><div class="eyebtn"><svg style="position:absolute;left:9.800px;top:9.800px" width="15.75" height="14" viewBox="0 0 576 512"><path fill="#212529" d="M572.520 241.400C518.290 135.590 410.930 64 288 64S57.680 135.640 3.480 241.410a32.350 32.350 0 0 0 0 29.190C57.710 376.410 165.070 448 288 448s230.320-71.640 284.520-177.410a32.350 32.350 0 0 0 0-29.190zM288 400a144 144 0 1 1 144-144 143.930 143.930 0 0 1-144 144zm0-240a95.310 95.310 0 0 0-25.310 3.790 47.850 47.850 0 0 1-66.900 66.900A95.780 95.780 0 1 0 288 160z"/></svg></div></td><td><span style="letter-spacing:-0.46px">Steve</span><br><span style="letter-spacing:-0.347px">Johnson</span></td><td><span style="letter-spacing:-0.21px">yupokteam@gmail.com</span></td><td><svg style="position:absolute;left:12.200px;top:16px" width="15.75" height="14" viewBox="0 0 576 512"><path fill="#fbb917" d="M259.3 17.800L194 150.200 47.900 171.500c-26.200 3.800-36.700 36.100-17.700 54.600l105.700 103-25 145.500c-4.500 26.300 23.200 46 46.400 33.700L288 439.600l130.700 68.700c23.200 12.200 50.900-7.400 46.400-33.700l-25-145.500 105.700-103c19-18.500 8.500-50.800-17.700-54.600L382 150.200 316.700 17.800c-11.700-23.600-45.600-23.900-57.400 0z"/></svg><span style="padding-left:19.300px"><span style="letter-spacing:-0.062px">5.00</span></span></td><td><span style="letter-spacing:-0.051px">Nice Item.</span></td><td><div class="edit"><span class="abs t" style="left:10px;top:9.500px;line-height:12px"><span style="letter-spacing:-0.199px">EditRating</span></span></div></td></tr>
</tbody></table></div>
<span class="abs t" style="left:115px;top:744.25px;font-size:14px;line-height:1;letter-spacing:-0.177px;">Showing 1 to 5 of 5 entries</span><div class="abs" id="pag"></div><div class="abs" id="pagact"></div><span class="abs t" style="left:1129.6px;top:741.25px;font-size:14px;line-height:1;letter-spacing:-0.134px;color:#6c757d;">Previous</span><span class="abs t" style="left:1208.4px;top:741.25px;font-size:14px;line-height:1;color:#fff;">1</span><span class="abs t" style="left:1241.3px;top:741.25px;font-size:14px;line-height:1;letter-spacing:0.203px;color:#6c757d;">Next</span>
<div class="abs" id="sb"><div class="abs sbbtn" style="top:1px"></div><div class="abs sbbtn" style="top:750px"></div><div class="abs" id="sbthumb"></div><svg class="abs" style="left:0;top:0" width="17" height="767" viewBox="0 0 17 767"><path d="M6.200 9.300 L8.500 7 L10.800 9.300" fill="none" stroke="#444" stroke-width="1.400"/><path d="M6 757 L8.500 760 L11 757z" fill="#444"/><path d="M5.500 342.500 h6 M5.500 345.500 h6 M5.500 348.500 h6" stroke="#555" stroke-width="1.200"/><path d="M5.500 343.500 h6 M5.500 346.500 h6 M5.500 349.500 h6" stroke="#fff" stroke-width=".8"/></svg></div>
</div>
</body>
</html>
